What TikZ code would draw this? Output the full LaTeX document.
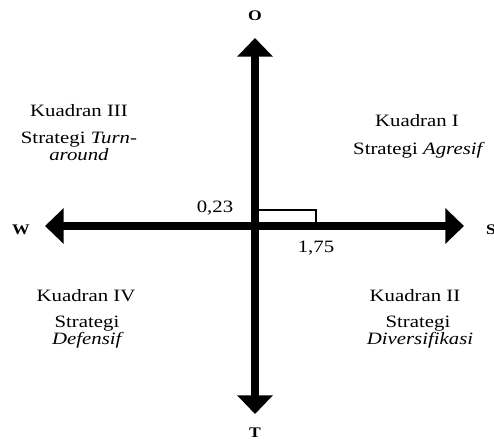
\documentclass[tikz,border=0pt]{standalone}
\usepackage{fontspec}
\usepackage{graphicx}
\setmainfont{Liberation Serif}
\usetikzlibrary{arrows.meta}
\newcommand{\sx}[1]{\scalebox{1.2}[1]{#1}}
\tikzset{
  axisline/.style={line width=5.4pt, {Triangle[width=26pt,length=14pt]}-{Triangle[width=26pt,length=14pt]}},
  lbl/.style={inner sep=0pt, anchor=base, font=\fontsize{13}{15}\selectfont},
  axlbl/.style={inner sep=0pt, anchor=base, font=\fontsize{11}{13}\selectfont\bfseries},
  valbox/.style={draw, line width=1.5pt, inner sep=0pt, minimum width=44.25pt, minimum height=11.25pt}
}
\begin{document}
\begin{tikzpicture}[x=0.75pt,y=-0.75pt]
\useasboundingbox (0,0) rectangle (494,440);
% axis tips
\coordinate (wtip) at (45,226);
\coordinate (etip) at (464,226);
\coordinate (ntip) at (255,38);
\coordinate (stip) at (255,414);
\draw[axisline] (wtip) -- (etip);
\draw[axisline] (stip) -- (ntip);
% axis labels
\node[axlbl] (O) at (255,20) {\sx{O}};
\node[axlbl] (T) at (255,437) {\sx{T}};
\node[axlbl] (W) at (21,234) {\sx{W}};
\node[axlbl] (S) at (491,234) {\sx{S}};
% value box
\node[valbox, anchor=south west] (box) at (256,226) {};
\node[lbl] (v1) at (215,212) {\sx{0,23}};
\node[lbl] (v2) at (316,252) {\sx{1,75}};
% quadrant I
\node[lbl] (q1a) at (417,126) {\sx{Kuadran I}};
\node[lbl] (q1b) at (419,154) {\sx{Strategi \textit{Agresif}}};
% quadrant III
\node[lbl] (q3a) at (79,116) {\sx{Kuadran III}};
\node[lbl] (q3b) at (79,143) {\sx{Strategi \textit{Turn-}}};
\node[lbl] (q3c) at (79,160) {\sx{\textit{around}}};
% quadrant IV
\node[lbl] (q4a) at (86,301) {\sx{Kuadran IV}};
\node[lbl] (q4b) at (87,327) {\sx{Strategi}};
\node[lbl] (q4c) at (88,344) {\sx{\textit{Defensif}}};
% quadrant II
\node[lbl] (q2a) at (415,301) {\sx{Kuadran II}};
\node[lbl] (q2b) at (418,327) {\sx{Strategi}};
\node[lbl] (q2c) at (420,344) {\sx{\textit{Diversifikasi}}};
\end{tikzpicture}
\end{document}
